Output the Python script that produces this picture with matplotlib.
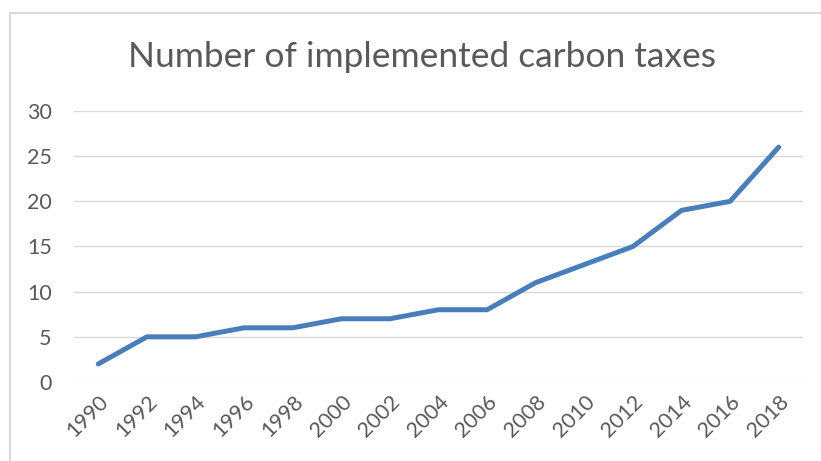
import matplotlib.pyplot as plt
from matplotlib.lines import Line2D

years = ['1990', '1992', '1994', '1996', '1998', '2000', '2002', '2004',
         '2006', '2008', '2010', '2012', '2014', '2016', '2018']
taxes = [2, 5, 5, 6, 6, 7, 7, 8, 8, 11, 13, 15, 19, 20, 26]
yticks = [0, 5, 10, 15, 20, 25, 30]

plt.rcParams['font.family'] = ['Lato', 'DejaVu Sans']
grey = '#595959'

W, H = 821, 461
fig = plt.figure(figsize=(W / 100, H / 100), dpi=100)
ax = fig.add_axes([74 / W, (H - 382) / H, (803 - 74) / W, (382 - 111) / H])

x = list(range(len(years)))
ax.plot(x, taxes, color='#4a7ebb', lw=3.6, solid_capstyle='round',
        solid_joinstyle='round', zorder=3)

ax.set_xlim(-0.5, len(years) - 0.5)
ax.set_ylim(0, 30)
ax.set_yticks(yticks)
ax.set_xticks(x)
ax.set_xticklabels(years, rotation=45, ha='right', va='top',
                   rotation_mode='anchor')
ax.tick_params(axis='y', length=0, pad=16, labelsize=15.5, labelcolor=grey)
ax.tick_params(axis='x', length=0, pad=7, labelsize=15.5, labelcolor=grey)
ax.grid(axis='y', color='#d9d9d9', lw=1.0)
ax.set_axisbelow(True)
for s in ax.spines.values():
    s.set_visible(False)

fig.text(422 / W, (H - 57) / H, 'Number of implemented carbon taxes',
         ha='center', va='center', fontsize=25.5, color=grey)

# chart border (left and top edges visible)
fig.add_artist(Line2D([10 / W, 10 / W], [0, (H - 13) / H], color='#d9d9d9', lw=1.5))
fig.add_artist(Line2D([10 / W, 1], [(H - 13) / H, (H - 13) / H], color='#d9d9d9', lw=1.5))

fig.savefig('out.png', dpi=100)
